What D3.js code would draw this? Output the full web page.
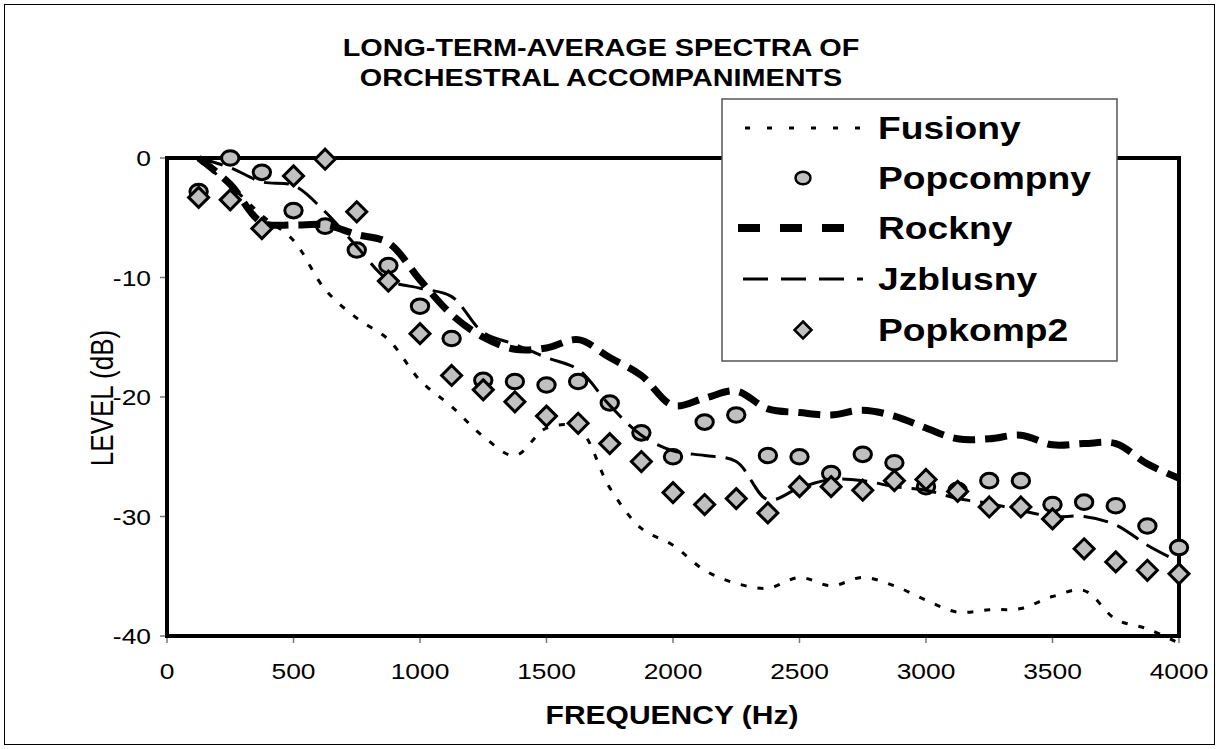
<!DOCTYPE html>
<html>
<head>
<meta charset="utf-8">
<script src="https://cdn.jsdelivr.net/npm/d3@7"></script>
<style>
  body { margin: 0; background: #fff; }
  text { font-family: "Liberation Sans", Arial, sans-serif; }
</style>
</head>
<body>
<svg id="chart" width="1219" height="749"></svg>
<script>
// Data: level (dB) per frequency (Hz)
const freqs = d3.range(125, 4001, 125);
const fusiony = [-0.2, -2.3, -4.8, -6.9, -11.0, -13.4, -15.2, -18.6, -20.8, -23.3, -24.9, -22.6, -22.6, -27.6, -31.0, -32.4,
                 -34.5, -35.6, -36.0, -35.1, -35.8, -35.1, -35.8, -37.0, -38.0, -37.8, -37.7, -36.7, -36.2, -38.6, -39.4, -40.6];
const popcompny = [-2.8, 0, -1.2, -4.4, -5.7, -7.7, -9.0, -12.4, -15.1, -18.6, -18.7, -19.0, -18.7, -20.5, -23.0, -25.0,
                   -22.1, -21.5, -24.9, -25.0, -26.4, -24.8, -25.5, -27.5, -27.8, -27.0, -27.0, -29.0, -28.8, -29.1, -30.8, -32.6];
const rockny = [0, -2.2, -5.4, -5.6, -5.6, -6.4, -7.1, -10.2, -13.1, -15.0, -16.0, -15.9, -15.2, -16.7, -18.2, -20.7,
                -20.1, -19.5, -21.0, -21.3, -21.5, -21.1, -21.6, -22.6, -23.5, -23.5, -23.2, -24.0, -23.9, -23.9, -25.6, -26.8];
const jzblusny = [0, -0.8, -2.0, -2.3, -4.5, -7.4, -10.2, -10.9, -11.6, -14.6, -15.6, -16.7, -17.7, -20.7, -23.2, -24.5,
                  -24.9, -25.4, -28.6, -27.6, -26.9, -27.0, -27.5, -27.8, -28.5, -28.9, -29.5, -30.0, -30.0, -30.7, -32.4, -33.8];
const popkomp2 = [-3.3, -3.5, -5.9, -1.5, -0.1, -4.5, -10.3, -14.7, -18.2, -19.4, -20.4, -21.6, -22.2, -23.9, -25.4, -28.0,
                  -29.0, -28.5, -29.7, -27.5, -27.5, -27.8, -27.0, -26.9, -27.9, -29.2, -29.2, -30.2, -32.7, -33.8, -34.5, -34.8];
const seriesNames = ["Fusiony", "Popcompny", "Rockny", "Jzblusny", "Popkomp2"];
const xTicks = [0, 500, 1000, 1500, 2000, 2500, 3000, 3500, 4000];
const yTicks = [0, -10, -20, -30, -40];

const svg = d3.select("#chart");
const W = 1219, H = 749;
const STRETCH = 1.2; // the reference text is wider than plain Arial

const x = d3.scaleLinear().domain([0, 4000]).range([167, 1179]);
const y = d3.scaleLinear().domain([-40, 0]).range([636, 158]);

// outer chart border
svg.append("rect")
    .attr("x", 4.5).attr("y", 4.5)
    .attr("width", W - 9).attr("height", H - 9)
    .attr("fill", "#fff").attr("stroke", "#000").attr("stroke-width", 1);

// helper for horizontally stretched text
function label(g, tx, ty, str, size, weight, anchor, rot) {
    const t = g.append("g")
        .attr("transform", `translate(${tx},${ty}) rotate(${rot || 0}) scale(${rot ? 1 : STRETCH},${rot ? STRETCH : 1})`);
    t.append("text")
        .attr("font-size", size)
        .attr("font-weight", weight)
        .attr("text-anchor", anchor)
        .attr("fill", "#000")
        .text(str);
    return t;
}

// title
label(svg, 601, 56, "LONG-TERM-AVERAGE SPECTRA OF", 24, "bold", "middle");
label(svg, 601, 86, "ORCHESTRAL ACCOMPANIMENTS", 24, "bold", "middle");

// axes ticks
const axes = svg.append("g");
axes.selectAll(".ytick").data(yTicks).enter().append("line")
    .attr("x1", 160).attr("x2", 167)
    .attr("y1", d => y(d)).attr("y2", d => y(d))
    .attr("stroke", "#777").attr("stroke-width", 1.5);
axes.selectAll(".xtick").data(xTicks).enter().append("line")
    .attr("x1", d => x(d)).attr("x2", d => x(d))
    .attr("y1", 636).attr("y2", 643)
    .attr("stroke", "#777").attr("stroke-width", 1.5);

yTicks.forEach(d => label(axes, 151, y(d) + 8, String(d), 22, "normal", "end"));
xTicks.forEach(d => label(axes, x(d), 679, String(d), 22, "normal", "middle"));

label(svg, 672, 724, "FREQUENCY (Hz)", 25, "bold", "middle");
label(svg, 113, 398, "LEVEL (dB)", 26, "normal", "middle", -90);

// plot area border
svg.append("rect")
    .attr("x", x(0)).attr("y", y(0))
    .attr("width", x(4000) - x(0)).attr("height", y(-40) - y(0))
    .attr("fill", "none").attr("stroke", "#000").attr("stroke-width", 4);

const curve = d3.curveCatmullRom.alpha(0.5);
const line = d3.line().x(d => x(d[0])).y(d => y(d[1])).curve(curve);
const pts = vals => freqs.map((f, i) => [f, vals[i]]);

const plot = svg.append("g");

// Fusiony: short dashes
plot.append("path").datum(pts(fusiony))
    .attr("d", line).attr("fill", "none")
    .attr("stroke", "#000").attr("stroke-width", 3)
    .attr("stroke-dasharray", "6,11");

// Popcompny: circles
function circles(g, data, rx, ry, sw) {
    g.selectAll(null).data(data).enter().append("ellipse")
        .attr("cx", d => x(d[0])).attr("cy", d => y(d[1]))
        .attr("rx", rx).attr("ry", ry)
        .attr("fill", "#c0c0c0").attr("stroke", "#000").attr("stroke-width", sw);
}
circles(plot, pts(popcompny), 8.7, 7.3, 3);

// Rockny: heavy dashes
plot.append("path").datum(pts(rockny))
    .attr("d", line).attr("fill", "none")
    .attr("stroke", "#000").attr("stroke-width", 7)
    .attr("stroke-dasharray", "22,10");

// Jzblusny: long dashes
plot.append("path").datum(pts(jzblusny))
    .attr("d", line).attr("fill", "none")
    .attr("stroke", "#000").attr("stroke-width", 3)
    .attr("stroke-dasharray", "25,10");

// Popkomp2: diamonds
const diamond = s => `M0,${-s}L${s},0L0,${s}L${-s},0Z`;
function diamonds(g, data, s, sw) {
    g.selectAll(null).data(data).enter().append("path")
        .attr("transform", d => `translate(${x(d[0])},${y(d[1])})`)
        .attr("d", diamond(s))
        .attr("fill", "#c0c0c0").attr("stroke", "#000").attr("stroke-width", sw)
        .attr("stroke-linejoin", "miter");
}
diamonds(plot, pts(popkomp2), 10, 3);

// legend
const lg = svg.append("g");
lg.append("rect")
    .attr("x", 722).attr("y", 99).attr("width", 395).attr("height", 262)
    .attr("fill", "#fff").attr("stroke", "#555").attr("stroke-width", 1.5);

const rowY = [128, 178, 228, 279, 330];
const lineStyles = {
    Fusiony: [3, "5,17", 745, 860],
    Rockny: [8, "22,20", 738, 846],
    Jzblusny: [3, "25,13", 743, 863]
};
seriesNames.forEach((name, i) => {
    const cy = rowY[i];
    const st = lineStyles[name];
    if (st) {
        lg.append("line")
            .attr("x1", st[2]).attr("x2", st[3]).attr("y1", cy).attr("y2", cy)
            .attr("stroke", "#000").attr("stroke-width", st[0])
            .attr("stroke-dasharray", st[1]);
    } else if (name === "Popcompny") {
        lg.append("ellipse").attr("cx", 803).attr("cy", cy).attr("rx", 7.5).attr("ry", 6.3)
            .attr("fill", "#c0c0c0").attr("stroke", "#000").attr("stroke-width", 2.5);
    } else {
        lg.append("path").attr("transform", `translate(803,${cy})`).attr("d", diamond(8.5))
            .attr("fill", "#c0c0c0").attr("stroke", "#000").attr("stroke-width", 2.5);
    }
    label(lg, 878, cy + 11, name, 31, "bold", "start");
});
</script>
</body>
</html>
